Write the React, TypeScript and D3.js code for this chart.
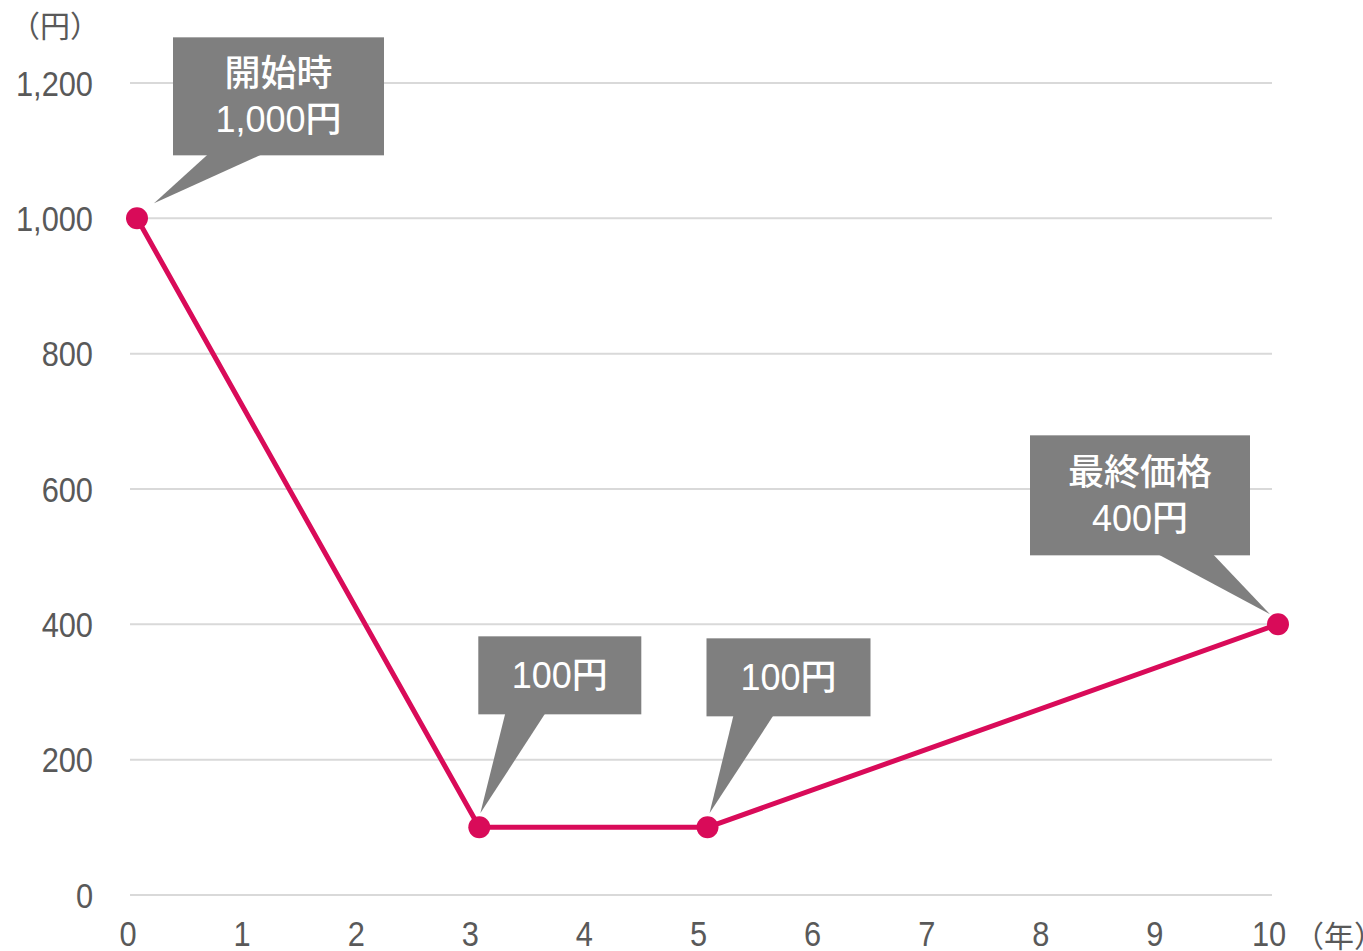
import React from "react";
import * as d3 from "d3";

const years = [0, 3, 5, 10];
const prices = [1000, 100, 100, 400];
const xTicks = [0, 1, 2, 3, 4, 5, 6, 7, 8, 9, 10];
const yTicks = [0, 200, 400, 600, 800, 1000, 1200];
const calloutLines = [["開始時", "1,000円"], ["100円"], ["100円"], ["最終価格", "400円"]];
// layout for callouts relative to point: [rectX0, rectY0, rectX1, rectY1, tailX0, tailX1, tipDx, tipDy]
const calloutLayout = [
  [36, -181, 247, -63, 71, 125, 17, -15],
  [-1, -191, 162, -113, 26, 66, 1, -14],
  [-1, -189, 163, -111, 26, 66, 2, -14],
  [-248, -189, -28, -69, -120, -65, -8, -10],
];

const W = 1363;
const H = 951;
const LINE = "#D90B59";
const TXT = "#595959";
const NUMFONT = "'Liberation Sans', Arial, sans-serif";
const JPFONT = "'Liberation Sans', 'Noto Sans CJK JP', sans-serif";

export default function App() {
  const x = d3.scaleLinear().domain([0, 10]).range([137, 1278]);
  const y = d3.scaleLinear().domain([0, 1200]).range([895, 83]);
  const line = d3
    .line<number>()
    .x((_, i) => x(years[i]))
    .y((d) => y(d));

  return (
    <svg
      width={W}
      height={H}
      style={{ position: "absolute", left: 0, top: 0, background: "#fff" }}
    >
      {yTicks.map((t) => (
        <line key={"g" + t} x1={130} x2={1272} y1={y(t)} y2={y(t)} stroke="#d9d9d9" strokeWidth={2} />
      ))}
      {yTicks.map((t) => (
        <g key={"yl" + t} transform={`translate(93,${y(t)}) scale(0.88,1)`}>
          <text
            x={0}
            y={0}
            dy="0.36em"
            textAnchor="end"
            fontFamily={NUMFONT}
            fontSize={35}
            fill={TXT}
          >
            {d3.format(",")(t)}
          </text>
        </g>
      ))}
      {xTicks.map((t) => (
        <g key={"xl" + t} transform={`translate(${x(t) - 9},946) scale(0.88,1)`}>
          <text
            x={0}
            y={0}
            textAnchor="middle"
            fontFamily={NUMFONT}
            fontSize={35}
            fill={TXT}
          >
            {t}
          </text>
        </g>
      ))}
      <text x={1294} y={947} fontFamily="'Noto Sans CJK JP', sans-serif" fontSize={30} fill={TXT}>
        （年）
      </text>
      <text x={10} y={37} fontFamily="'Noto Sans CJK JP', sans-serif" fontSize={30} fill={TXT}>
        （円）
      </text>

      <path d={line(prices) || ""} fill="none" stroke={LINE} strokeWidth={5} strokeLinejoin="round" />
      {prices.map((p, i) => (
        <circle key={"c" + i} cx={x(years[i])} cy={y(p)} r={11} fill={LINE} />
      ))}

      {prices.map((p, i) => {
        const px = x(years[i]);
        const py = y(p);
        const [rx0, ry0, rx1, ry1, tx0, tx1, tdx, tdy] = calloutLayout[i];
        const lines = calloutLines[i];
        const cx = px + (rx0 + rx1) / 2;
        const cy = py + (ry0 + ry1) / 2;
        const lh = 46;
        return (
          <g key={"co" + i}>
            <rect x={px + rx0} y={py + ry0} width={rx1 - rx0} height={ry1 - ry0} fill="#7f7f7f" />
            <polygon
              points={`${px + tx0},${py + ry1 - 1} ${px + tx1},${py + ry1 - 1} ${px + tdx},${py + tdy}`}
              fill="#7f7f7f"
            />
            {lines.map((l, j) => (
              <text
                key={j}
                x={cx}
                y={cy + (j - (lines.length - 1) / 2) * lh}
                dy="0.36em"
                textAnchor="middle"
                fontFamily={JPFONT}
                fontSize={36}
                fontWeight={500}
                fill="#ffffff"
              >
                {l}
              </text>
            ))}
          </g>
        );
      })}
    </svg>
  );
}
